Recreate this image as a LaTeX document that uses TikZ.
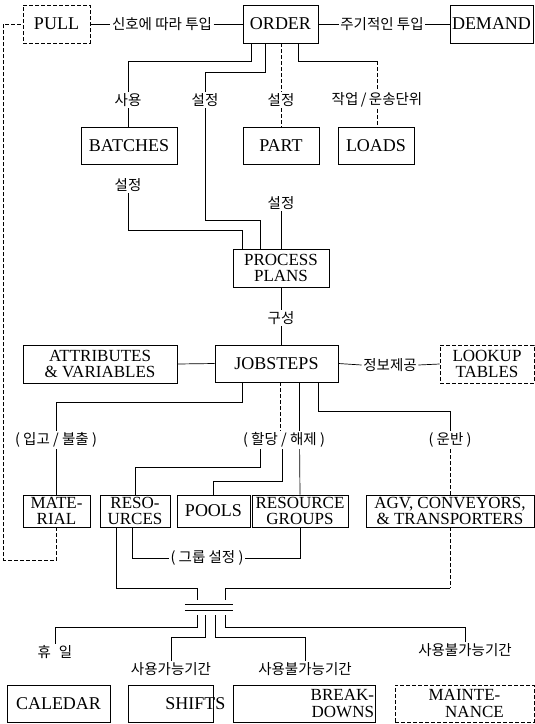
\documentclass[tikz,border=0pt]{standalone}
\usepackage{fontspec}
\setmainfont{Liberation Serif}
\newfontfamily\kr{Noto Sans CJK KR}
\usetikzlibrary{calc}
\begin{document}
\begin{tikzpicture}[x=1pt,y=-1pt,
 box/.style={draw, line width=0.8pt, inner sep=0pt, align=center, font=\fontsize{18}{16}\selectfont},
 twobox/.style={box, font=\fontsize{17}{16.5}\selectfont},
 dbox/.style={box, dash pattern=on 4pt off 2pt},
 dtwobox/.style={twobox, dash pattern=on 4pt off 2pt},
 lab/.style={inner sep=1.5pt, font=\kr\fontsize{14.5}{16}\selectfont},
 con/.style={line width=0.7pt},
 dcon/.style={con, dash pattern=on 4pt off 2pt}]
\useasboundingbox[fill=white] (0,0) rectangle (535,724);

% top row
\node[dbox, minimum width=67pt, minimum height=38pt] (pull) at (56.5,24) {PULL};
\node[box, minimum width=75pt, minimum height=38pt] (order) at (280.5,24) {ORDER};
\node[box, minimum width=83pt, minimum height=38pt] (demand) at (491.5,24) {DEMAND};
\node[lab] (lsig) at (162,24) {신호에 따라 투입};
\node[lab] (lper) at (382,24) {주기적인 투입};

\node[lab] (luse) at (128,100) {사용};
\node[lab] (lset1) at (205,100) {설정};
\node[lab] (lset2) at (281,100) {설정};
\node[lab] (lload) at (377,100) {작업\,/\,운송단위};

\node[box, minimum width=96pt, minimum height=37pt] (batches) at (129,145.5) {BATCHES};
\node[box, minimum width=76pt, minimum height=37pt] (part) at (281,145.5) {PART};
\node[box, minimum width=76pt, minimum height=37pt] (loads) at (376,145.5) {LOADS};

\node[lab] (lset3) at (128,185) {설정};
\node[lab] (lset4) at (281,203) {설정};
\node[twobox, minimum width=96pt, minimum height=38pt] (pp) at (281,268) {PROCESS\\PLANS};
\node[lab] (lcomp) at (281,318) {구성};
\node[box, minimum width=123pt, minimum height=37pt] (job) at (276.5,363.5) {JOBSTEPS};
\node[twobox, minimum width=154pt, minimum height=38pt] (attr) at (100,364) {ATTRIBUTES\\\& VARIABLES};
\node[dtwobox, minimum width=94pt, minimum height=38pt] (lookup) at (487,364) {LOOKUP\\TABLES};
\node[lab] (linfo) at (390,365) {정보제공};

\node[lab] (lio) at (56,440) {( 입고 / 불출 )};
\node[lab] (lalloc) at (284,440) {( 할당 / 해제 )};
\node[lab] (lcarry) at (450,440) {( 운반 )};

\node[twobox, minimum width=67pt, minimum height=32pt] (mat) at (56.5,511) {MATE-\\RIAL};
\node[twobox, minimum width=70pt, minimum height=32pt] (res) at (135,511) {RESO-\\URCES};
\node[box, minimum width=73pt, minimum height=32pt] (pools) at (213.5,511) {POOLS};
\node[twobox, minimum width=96pt, minimum height=32pt] (rg) at (300,511) {RESOURCE\\GROUPS};
\node[twobox, minimum width=168pt, minimum height=32pt] (agv) at (450,511) {AGV, CONVEYORS,\\\& TRANSPORTERS};

\node[lab] (lgrp) at (207,558) {( 그룹 설정 )};
\node[minimum width=48pt, minimum height=5pt, inner sep=0pt] (hub) at (209,607.5) {};

\node[lab] (lhol) at (55,652) {휴\hspace{8pt}일};
\node[lab] (lav) at (171,669) {사용가능기간};
\node[lab] (lunav) at (305,669) {사용불가능기간};
\node[lab] (lunav2) at (465,650) {사용불가능기간};

\node[box, minimum width=103pt, minimum height=37pt] (cal) at (58.5,703.5) {CALEDAR};
\node[box, minimum width=85pt, minimum height=37pt] (shifts) at (170.5,703.5) {\hspace*{50pt}\makebox[0pt]{SHIFTS}};
\node[twobox, minimum width=142pt, minimum height=37pt] (bd) at (304,703.5) {\parbox{140pt}{\raggedleft BREAK-\hspace*{17pt}\\DOWNS}};
\node[dtwobox, minimum width=139pt, minimum height=37pt] (maint) at (464.5,703.5) {MAINTE-\\\hspace*{20pt}NANCE};

% connectors top
\draw[con] (pull.east) -- (lsig.west);
\draw[con] (lsig.east) -- (order.west);
\draw[con] (order.east) -- (lper.west);
\draw[con] (lper.east) -- (demand.west);

\coordinate (o1) at ($(order.south west)+(9,0)$);
\coordinate (o2) at ($(order.south west)+(23,0)$);
\coordinate (o4) at ($(order.south west)+(56,0)$);
\draw[con] (o1) -- ++(0,18) -| (luse.north);
\draw[con] (o2) -- ++(0,29) -| (lset1.north);
\draw[dcon] (lset2.north |- order.south) -- (lset2.north);
\draw[con] (o4) -- ++(0,18) coordinate (o4b) -- (o4b -| lload.north);
\draw[dcon] (o4b -| lload.north) -- (lload.north);
\draw[con] (luse.south) -- (luse.south |- batches.north);
\draw[dcon] (lset2.south) -- (part.north);
\draw[dcon] (lload.south) -- (lload.south |- loads.north);

\coordinate (c1) at (205,220);
\coordinate (c2) at (128,230);
\draw[con] (lset1.south) -- (c1) -| ($(pp.north west)+(28,0)$);
\draw[con] (lset3.south) -- (c2) -| ($(pp.north west)+(10,0)$);
\draw[con] (lset4.south) -- (pp.north);
\draw[con] (pp.south) -- (lcomp.north);
\draw[con] (lcomp.south) -- (lcomp.south |- job.north);
\draw[con] (attr.east) -- (job.west);
\draw[con] (job.east) -- (linfo.west);
\draw[con] (linfo.east) -- (lookup.west);

% jobsteps below
\coordinate (j1) at ($(job.south west)+(28,0)$);
\coordinate (j2) at ($(job.south west)+(66,0)$);
\coordinate (j3) at ($(job.south west)+(85,0)$);
\coordinate (j4) at ($(job.south west)+(104,0)$);
\draw[con] (j1) -- ++(0,20) -| (lio.north);
\draw[dcon] (j2) -- (j2 |- lalloc.north);
\draw[con] (j3) -- (j3 |- lalloc.north);
\draw[con] (j4) -- ++(0,29) -| (lcarry.north);
\draw[con] (lio.south) -- (lio.south |- mat.north);
\coordinate (a1) at (260,467);
\coordinate (a2) at (282,481);
\draw[con] (lalloc.south -| a1) -- (a1) -| (res.north);
\draw[con] (lalloc.south -| a2) -- (a2) -| (pools.north);
\draw[con] (lalloc.south -| j3) -- (rg.north);
\draw[dcon] (lcarry.south) -- (agv.north);

% bottom
\draw[dcon] (mat.south) -- ++(0,33) -| ($(pull.west)+(-19,0)$) -- (pull.west);
\coordinate (r1) at ($(res.south west)+(33,0)$);
\coordinate (r2) at ($(res.south west)+(17,0)$);
\draw[con] (r1) |- (lgrp.west);
\draw[con] (lgrp.east) -| (rg.south);
\coordinate (h1) at ($(hub.north)+(-12,-5)$);
\coordinate (h2) at ($(hub.north)+(16,-5)$);
\draw[con] (r2) -- ++(0,61) -| (h1);
\draw[dcon] (agv.south) -- ++(0,61) coordinate (a3);
\draw[con] (a3) -| (h2);
\draw[con, line width=0.9pt] (hub.north west) -- (hub.north east) (hub.south west) -- (hub.south east);
\coordinate (b1) at ($(hub.south)+(-12,5)$);
\coordinate (b2) at ($(hub.south)+(-4,5)$);
\coordinate (b3) at ($(hub.south)+(6,5)$);
\coordinate (b4) at ($(hub.south)+(16,5)$);
\draw[con] (b1) -- ++(0,12) -| (lhol.north);
\draw[con] (b2) -- ++(0,22) -| (lav.north);
\draw[con] (b3) -- ++(0,22) -| (lunav.north);
\draw[con] (b4) -- ++(0,12) -| (lunav2.north);
\end{tikzpicture}
\end{document}
